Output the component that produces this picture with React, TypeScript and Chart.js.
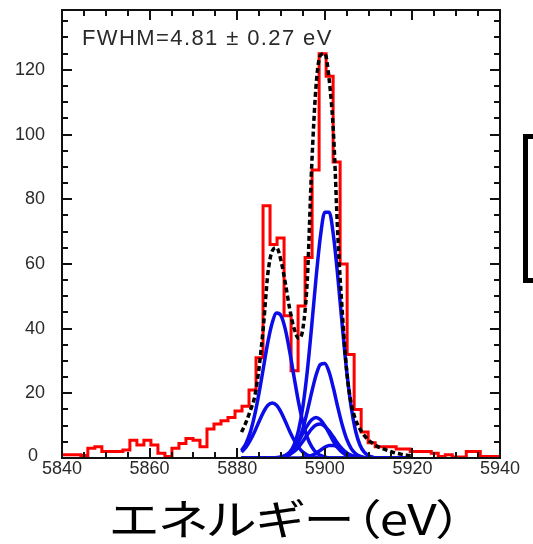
import React, { useEffect, useRef } from 'react';
import { Chart, registerables } from 'chart.js';

Chart.register(...registerables);

// ---- histogram (measured spectrum) ----
const histStart = 5839.5; // eV, left edge of first bin
const histWidth = 1.6; // eV per bin
const histCounts = [
  1, 1, 1, 0.8, 3, 3.5, 2, 2, 2, 2.5,
  5.5, 4, 5.5, 4, 1.5, 0.5, 3, 4.5, 6, 5.5,
  3.5, 9, 10.5, 11.5, 12.5, 14.5, 16, 21, 31, 78,
  66, 68, 44, 27, 47, 62, 89, 125, 118, 91.5,
  60, 32, 15, 8, 4.7, 3.5, 3.5, 3.5, 2.8, 2.8,
  2, 2, 2, 1.5, 0.5, 1, 0.3, 0.3, 2, 2,
  0.5, 0.5, 0.5,
];

// ---- fit (energies in eV) ----
const fitEnergy = [
  5881, 5882, 5883, 5884, 5885, 5886, 5887, 5888, 5889, 5890,
  5891, 5892, 5893, 5894, 5895, 5896, 5897, 5898, 5899, 5900,
  5901, 5902, 5903, 5904, 5905, 5906, 5907, 5908, 5909, 5910,
  5911, 5912, 5913, 5914, 5915, 5916, 5917, 5918, 5919, 5920,
];
const fitTotal = [
  8, 11, 14.7, 19, 28, 41, 57, 64, 65, 61,
  54, 46, 40, 37, 40, 55, 90, 115, 124.5, 125,
  117, 100, 68, 45, 27, 17, 12, 9, 7, 5.5,
  4.5, 3.6, 3, 2.5, 2, 1.6, 1.3, 1, 0.8, 0.6,
];
const compA = [
  2.3, 4.5, 8, 13.3, 20.2, 28, 35.8, 41.8, 44.8, 44,
  39.7, 32.8, 24.9, 17.3, 11, 6.4, 3.5, 1.7, 0.8, 0.3,
  0, 0, 0, 0, 0, 0, 0, 0, 0, 0,
  0, 0, 0, 0, 0, 0, 0, 0, 0, 0,
];
const compB = [
  1.8, 3.3, 5.5, 8.2, 11.3, 14.2, 16.3, 17, 16.3, 14.2,
  11.3, 8.2, 5.5, 3.3, 1.8, 0.9, 0.4, 0.2, 0, 0,
  0, 0, 0, 0, 0, 0, 0, 0, 0, 0,
  0, 0, 0, 0, 0, 0, 0, 0, 0, 0,
];
const compC = [
  0, 0, 0, 0, 0, 0, 0, 0, 0, 0.25,
  0.7, 1.8, 4.1, 8.5, 15.9, 26.8, 40.7, 55.6, 68.5, 76,
  76, 68.5, 55.6, 40.7, 26.8, 15.9, 8.5, 4.1, 1.8, 0.7,
  0.25, 0, 0, 0, 0, 0, 0, 0, 0, 0,
];
const compD = [
  0, 0, 0, 0, 0, 0, 0, 0, 0, 0,
  0.5, 1.2, 2.6, 5.2, 9.1, 14.4, 20.3, 25.6, 28.9, 29.2,
  26.5, 21.4, 15.5, 10.1, 5.8, 3, 1.4, 0.6, 0.2, 0,
  0, 0, 0, 0, 0, 0, 0, 0, 0, 0,
];
const compE = [
  0, 0, 0, 0, 0, 0, 0, 0, 0.14, 0.35,
  0.8, 1.7, 3.1, 5.1, 7.6, 10, 11.8, 12.5, 11.8, 10,
  7.6, 5.1, 3.1, 1.7, 0.8, 0.35, 0.14, 0, 0, 0,
  0, 0, 0, 0, 0, 0, 0, 0, 0, 0,
];
const compF = [
  0, 0, 0, 0, 0, 0, 0, 0, 0, 0.24,
  0.54, 1.1, 2, 3.4, 5.2, 7.2, 9, 10.2, 10.5, 9.8,
  8.3, 6.4, 4.4, 2.8, 1.6, 0.8, 0.4, 0.2, 0, 0,
  0, 0, 0, 0, 0, 0, 0, 0, 0, 0,
];
const compG = [
  0, 0, 0, 0, 0, 0, 0, 0, 0, 0,
  0, 0, 0, 0, 0.14, 0.36, 0.8, 1.5, 2.4, 3.3,
  3.9, 3.9, 3.3, 2.4, 1.5, 0.8, 0.36, 0.14, 0, 0,
  0, 0, 0, 0, 0, 0, 0, 0, 0, 0,
];
const components = [compA, compB, compC, compD, compE, compF, compG];

// ---- axes ----
const xTicks = [5840, 5860, 5880, 5900, 5920, 5940];
const yTicks = [20, 40, 60, 80, 100, 120];
const X_MIN = 5840;
const X_MAX = 5940;
const Y_MIN = 0;
const Y_MAX = 138.5;
const MINOR_STEP = 5;
const MAJOR_STEP = 20;

const annotationText = 'FWHM=4.81 ± 0.27 eV';
const xTitle = 'エネルギー（eV）';
const yZeroLabel = '0';

const framePlugin = {
  id: 'frameTicks',
  afterDatasetsDraw(chart: any) {
    const { ctx, chartArea: a, scales } = chart;
    const xs = scales.x;
    const ys = scales.y;
    ctx.save();
    ctx.strokeStyle = '#111';
    ctx.lineWidth = 2;
    ctx.strokeRect(a.left, a.top, a.right - a.left, a.bottom - a.top);
    ctx.beginPath();
    for (let v = X_MIN; v <= X_MAX; v += MINOR_STEP) {
      const px = Math.round(xs.getPixelForValue(v));
      const len = v % MAJOR_STEP === 0 ? 10 : 6;
      ctx.moveTo(px, a.bottom);
      ctx.lineTo(px, a.bottom - len);
      ctx.moveTo(px, a.top);
      ctx.lineTo(px, a.top + len);
    }
    for (let v = Y_MIN; v <= Y_MAX; v += MINOR_STEP) {
      const py = Math.round(ys.getPixelForValue(v));
      const len = v % MAJOR_STEP === 0 ? 10 : 6;
      ctx.moveTo(a.left, py);
      ctx.lineTo(a.left + len, py);
      ctx.moveTo(a.right, py);
      ctx.lineTo(a.right - len, py);
    }
    ctx.stroke();
    ctx.restore();
  },
};

export default function App() {
  const canvasRef = useRef<HTMLCanvasElement | null>(null);

  useEffect(() => {
    if (!canvasRef.current) return;
    const histPoints = histCounts.map((c, i) => ({ x: histStart + i * histWidth, y: c }));
    histPoints.push({ x: histStart + histCounts.length * histWidth, y: histCounts[histCounts.length - 1] });

    const tickFont = { family: '"Liberation Sans", Arial, sans-serif', size: 18, lineHeight: 1 };

    const chart = new Chart(canvasRef.current, {
      type: 'line',
      data: {
        datasets: [
          {
            label: 'fit',
            data: fitEnergy.map((e, i) => ({ x: e, y: fitTotal[i] })),
            borderColor: '#000000',
            borderWidth: 3.5,
            borderDash: [5, 3],
            pointRadius: 0,
            cubicInterpolationMode: 'monotone',
            fill: false,
            order: 0,
          },
          ...components.map((comp, k) => ({
            label: 'comp' + k,
            data: fitEnergy.map((e, i) => ({ x: e, y: comp[i] })),
            borderColor: '#0c0ce8',
            borderWidth: 3.5,
            pointRadius: 0,
            cubicInterpolationMode: 'monotone' as const,
            fill: false,
            order: 1,
          })),
          {
            label: 'data',
            data: histPoints,
            borderColor: '#ff0000',
            borderWidth: 3,
            stepped: true,
            pointRadius: 0,
            fill: false,
            order: 2,
          },
        ],
      },
      options: {
        animation: false,
        responsive: false,
        devicePixelRatio: 1,
        events: [],
        layout: { padding: { left: 0, top: 10, right: 33, bottom: 0 } },
        plugins: { legend: { display: false }, tooltip: { enabled: false } },
        scales: {
          x: {
            type: 'linear',
            min: X_MIN,
            max: X_MAX,
            afterBuildTicks: (s: any) => {
              s.ticks = xTicks.map((v) => ({ value: v }));
            },
            afterFit: (s: any) => {
              s.height = 86;
            },
            grid: { display: false, drawTicks: false },
            border: { display: false },
            ticks: {
              font: tickFont,
              color: '#2a2a2a',
              padding: 2,
              maxRotation: 0,
              autoSkip: false,
              callback: (v: any) => String(v),
            },
          },
          y: {
            type: 'linear',
            min: Y_MIN,
            max: Y_MAX,
            afterBuildTicks: (s: any) => {
              s.ticks = yTicks.map((v) => ({ value: v }));
            },
            afterFit: (s: any) => {
              s.width = 62;
            },
            grid: {
              display: true,
              drawOnChartArea: false,
              drawTicks: true,
              tickLength: 17,
              color: 'rgba(0,0,0,0)',
            },
            border: { display: false },
            ticks: {
              font: tickFont,
              color: '#2a2a2a',
              padding: 0,
              autoSkip: false,
              callback: (v: any) => String(v),
            },
          },
        },
      },
      plugins: [framePlugin],
    } as any);
    return () => chart.destroy();
  }, []);

  return (
    <div
      style={{
        position: 'absolute',
        left: 0,
        top: 0,
        width: 533,
        height: 544,
        overflow: 'hidden',
        background: '#ffffff',
      }}
    >
      <canvas ref={canvasRef} width={533} height={544} style={{ display: 'block', width: 533, height: 544 }} />
      <div
        style={{
          position: 'absolute',
          left: 82,
          top: 27,
          fontFamily: '"Liberation Sans", Arial, sans-serif',
          fontSize: 22,
          lineHeight: 1,
          letterSpacing: 1.4,
          color: '#2a2a2a',
          whiteSpace: 'nowrap',
        }}
      >
        {annotationText}
      </div>
      <div
        style={{
          position: 'absolute',
          left: 28,
          top: 446,
          fontFamily: '"Liberation Sans", Arial, sans-serif',
          fontSize: 18,
          lineHeight: 1,
          color: '#2a2a2a',
        }}
      >
        {yZeroLabel}
      </div>
      <div
        style={{
          position: 'absolute',
          left: 0,
          width: 572,
          top: 496,
          textAlign: 'center',
          fontFamily: '"Noto Sans CJK JP", sans-serif',
          fontSize: 42,
          lineHeight: 1,
          color: '#000',
          fontFeatureSettings: '"palt"',
          whiteSpace: 'nowrap',
          transform: 'scaleX(1.22)',
        }}
      >
        {xTitle}
      </div>
      <div
        style={{
          position: 'absolute',
          left: 523,
          top: 134,
          width: 40,
          height: 149,
          boxSizing: 'border-box',
          border: '5px solid #000',
          borderRight: 'none',
        }}
      />
    </div>
  );
}
